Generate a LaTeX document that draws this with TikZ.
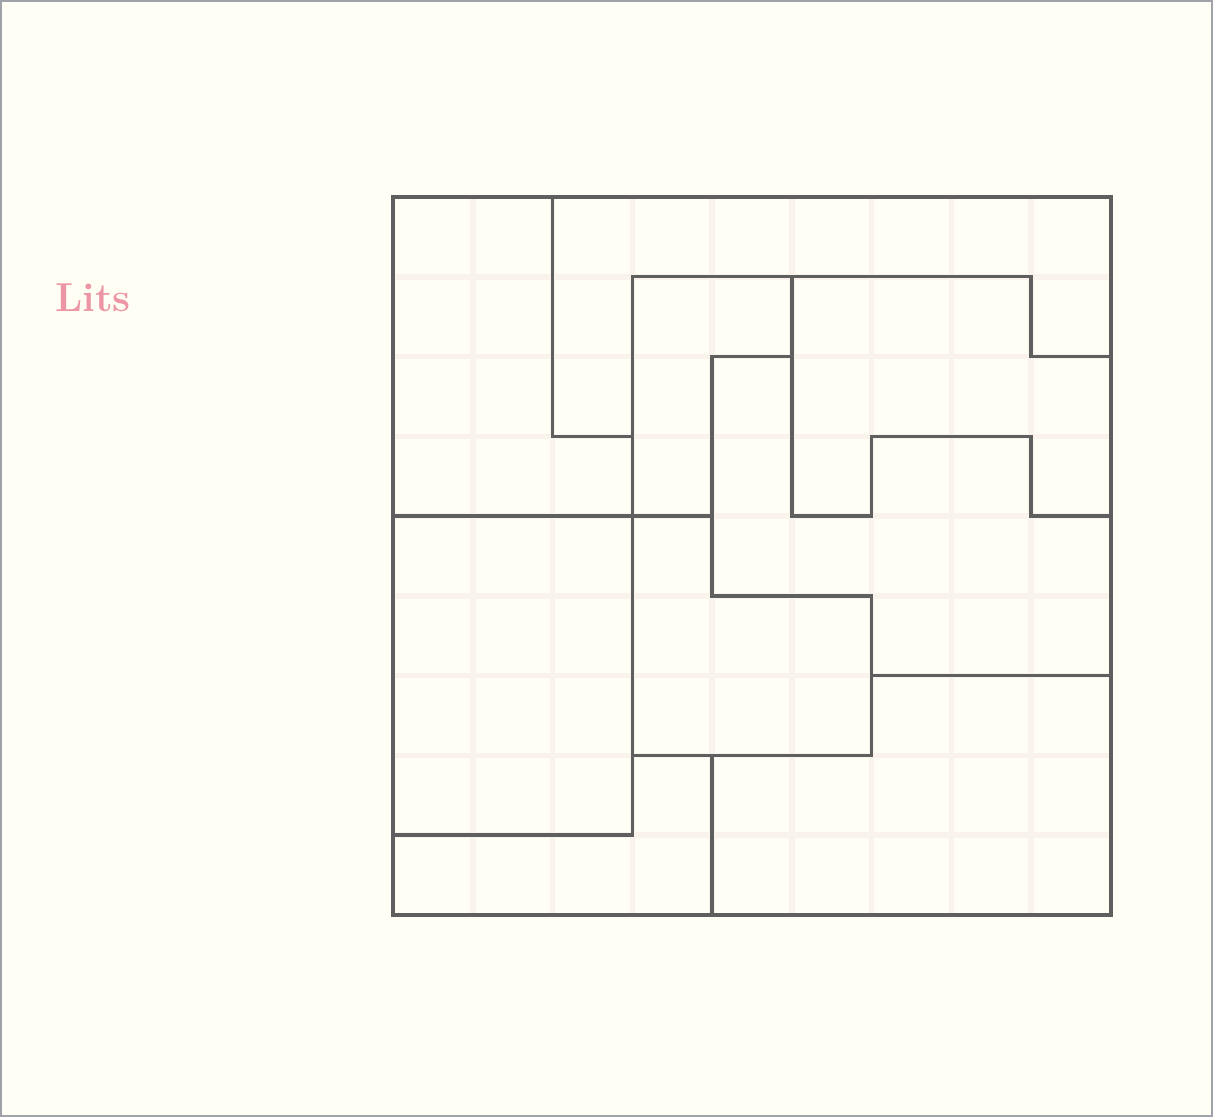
\documentclass[tikz,border=0pt]{standalone}
\usepackage{xcolor}
\usepackage{tikz}
\usetikzlibrary{positioning}

\definecolor{paper}{RGB}{255,254,244}
\definecolor{frame}{RGB}{160,162,170}
\definecolor{cellline}{RGB}{250,243,236}
\definecolor{wall}{RGB}{95,95,95}
\definecolor{titlepink}{RGB}{236,150,165}

\begin{document}
\begin{tikzpicture}[x=0.02cm, y=-0.02cm,
    cellgrid/.style={draw=cellline, line width=0.11cm},
    regionwall/.style={draw=wall, line width=0.068cm, line cap=rect, line join=miter},
    titletext/.style={text=titlepink, font=\fontsize{23}{28}\selectfont\bfseries, inner sep=0pt}]

    % Page background and thin outer frame
    \fill[paper] (0,0) rectangle (1213,1117);
    \useasboundingbox (0,0) rectangle (1213,1117);
    \draw[frame, line width=0.03cm] (1,1) rectangle (1212,1116);

    % Title on the left
    \node[titletext] (title) at (93,298) {Lits};

    % Puzzle board: 9 x 9 cells, one unit is one cell
    \begin{scope}[shift={(393,197)}, x=1.5956cm, y=-1.5956cm]

        % Faint cell lines
        \foreach \i in {1,...,8} {
            \draw[cellgrid] (\i,0) -- (\i,9);
            \draw[cellgrid] (0,\i) -- (9,\i);
        }

        % Region walls
        \draw[regionwall] (0,0) rectangle (9,9);
        \draw[regionwall] (2,0) -- (2,3) -- (3,3);
        \draw[regionwall] (3,8) -- (3,1) -- (8,1) -- (8,2) -- (9,2);
        \draw[regionwall] (0,4) -- (4,4);
        \draw[regionwall] (5,2) -- (4,2) -- (4,5) -- (6,5) -- (6,7) -- (3,7);
        \draw[regionwall] (5,1) -- (5,4) -- (6,4) -- (6,3) -- (8,3) -- (8,4) -- (9,4);
        \draw[regionwall] (6,6) -- (9,6);
        \draw[regionwall] (4,7) -- (4,9);
        \draw[regionwall] (0,8) -- (3,8);

    \end{scope}

\end{tikzpicture}
\end{document}
